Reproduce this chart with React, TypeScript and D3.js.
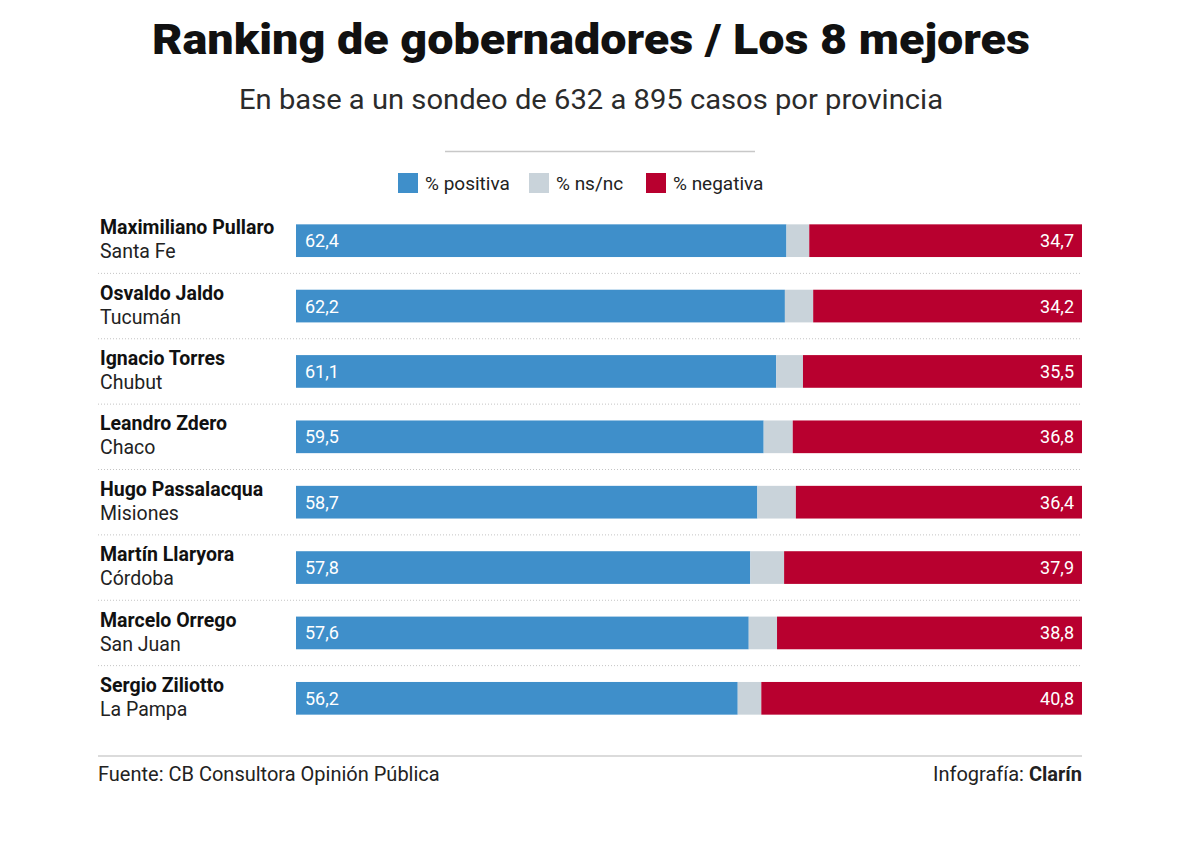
import React from "react";
import * as d3 from "d3";

const names = [
  "Maximiliano Pullaro",
  "Osvaldo Jaldo",
  "Ignacio Torres",
  "Leandro Zdero",
  "Hugo Passalacqua",
  "Martín Llaryora",
  "Marcelo Orrego",
  "Sergio Ziliotto",
];
const provinces = ["Santa Fe", "Tucumán", "Chubut", "Chaco", "Misiones", "Córdoba", "San Juan", "La Pampa"];
const positiva = [62.4, 62.2, 61.1, 59.5, 58.7, 57.8, 57.6, 56.2];
const nsnc = [2.9, 3.6, 3.4, 3.7, 4.9, 4.3, 3.6, 3.0];
const negativa = [34.7, 34.2, 35.5, 36.8, 36.4, 37.9, 38.8, 40.8];

const legendLabels = ["% positiva", "% ns/nc", "% negativa"];
const colors = ["#3f8fca", "#c9d3da", "#b8002f"];

const FONT = "Roboto, 'Liberation Sans Narrow', Arial, sans-serif";
const fmt = (v: number) => v.toFixed(1).replace(".", ",");

export default function App() {
  const W = 1200;
  const H = 847;
  const x0 = 296;
  const x1 = 1082;
  const x = d3.scaleLinear().domain([0, 100]).range([x0, x1]);
  const y = d3
    .scaleBand<number>()
    .domain(d3.range(names.length))
    .range([208, 731])
    .paddingInner(0.5)
    .paddingOuter(0.25);
  const bh = y.bandwidth();
  const step = y.step();

  const legendX = [398, 529, 646];

  return (
    <svg width={W} height={H} style={{ position: "absolute", left: 0, top: 0, background: "#fff" }}>
      <text
        x={591}
        y={54}
        textAnchor="middle"
        fontFamily={FONT}
        fontWeight={900}
        fontSize={42}
        fill="#111"
        textLength={878}
        lengthAdjust="spacingAndGlyphs"
      >
        Ranking de gobernadores / Los 8 mejores
      </text>
      <text
        x={591}
        y={109}
        textAnchor="middle"
        fontFamily={FONT}
        fontSize={27}
        fill="#2b2b2b"
        textLength={704}
        lengthAdjust="spacingAndGlyphs"
      >
        En base a un sondeo de 632 a 895 casos por provincia
      </text>
      <line x1={445} x2={755} y1={151.5} y2={151.5} stroke="#c8c8c8" strokeWidth={1.5} />

      {legendLabels.map((l, i) => (
        <g key={l}>
          <rect x={legendX[i]} y={173} width={20} height={20} fill={colors[i]} />
          <text x={legendX[i] + 27} y={190} fontFamily={FONT} fontSize={19} fill="#222">
            {l}
          </text>
        </g>
      ))}

      {names.map((n, i) => {
        const top = y(i)!;
        const pos = positiva[i];
        const ns = nsnc[i];
        const neg = negativa[i];
        const cy = top + bh / 2;
        return (
          <g key={n}>
            <text x={100} y={top + 10} fontFamily={FONT} fontWeight={700} fontSize={19.5} fill="#111">
              {n}
            </text>
            <text x={100} y={top + 34} fontFamily={FONT} fontSize={19.5} fill="#222">
              {provinces[i]}
            </text>
            <rect x={x(0)} y={top} width={x(pos) - x(0)} height={bh} fill={colors[0]} />
            <rect x={x(pos)} y={top} width={x(pos + ns) - x(pos)} height={bh} fill={colors[1]} />
            <rect x={x(100 - neg)} y={top} width={x(100) - x(100 - neg)} height={bh} fill={colors[2]} />
            <text x={x(0) + 9} y={cy + 6.5} fontFamily={FONT} fontSize={18} fill="#fff">
              {fmt(pos)}
            </text>
            <text x={x(100) - 8} y={cy + 6.5} textAnchor="end" fontFamily={FONT} fontSize={18} fill="#fff">
              {fmt(neg)}
            </text>
            {i < names.length - 1 && (
              <line
                x1={98}
                x2={1082}
                y1={top + bh + (step - bh) / 2}
                y2={top + bh + (step - bh) / 2}
                stroke="#c4c4c4"
                strokeWidth={1}
                strokeDasharray="1 2"
              />
            )}
          </g>
        );
      })}

      <line x1={98} x2={1082} y1={756} y2={756} stroke="#cfcfcf" strokeWidth={1.5} />
      <text x={98} y={781} fontFamily={FONT} fontSize={20} fill="#222">
        Fuente: CB Consultora Opinión Pública
      </text>
      <text x={1082} y={781} textAnchor="end" fontFamily={FONT} fontSize={20} fill="#222">
        Infografía: <tspan fontWeight={700}>Clarín</tspan>
      </text>
    </svg>
  );
}
